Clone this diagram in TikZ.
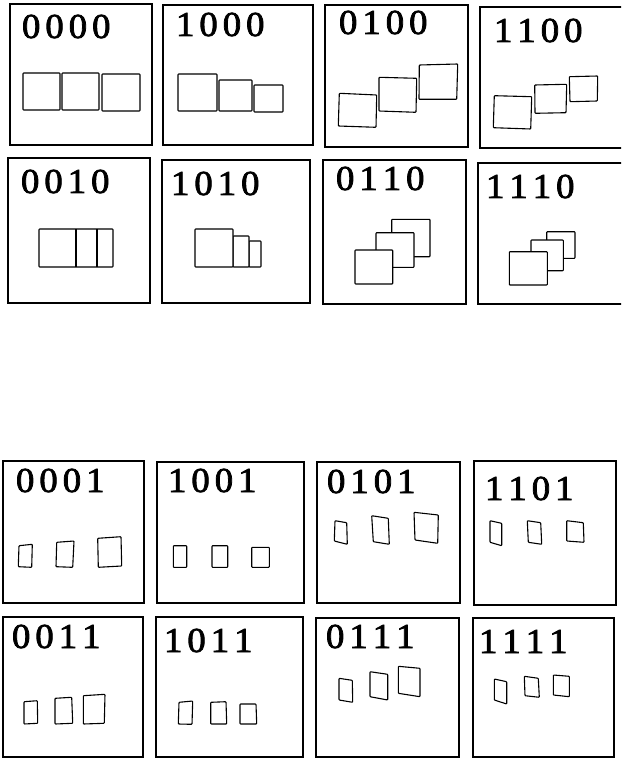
\documentclass[tikz,border=0pt]{standalone}
\usepackage{fontspec}
\newfontfamily\lblfont[FakeStretch=1.05,FakeBold=2.2]{Liberation Serif}
\newcommand\bits[4]{#1\kern5pt#2\kern5pt#3\kern5pt#4}
\tikzset{
  panel/.style={draw=black, line width=1.1pt},
  sq/.style={draw=black, line width=1.1pt, fill=white, rounded corners=0.7pt, line join=round},
  lab/.style={anchor=base west, inner sep=0pt, outer sep=0pt, font=\lblfont\fontsize{35}{39}\selectfont}
}
\begin{document}
\begin{tikzpicture}[x=1pt, y=-1pt]
\clip (0,0) rectangle (621,759);
\fill[white] (0,0) rectangle (621,759);
% ---------- row 1 ----------
\draw[panel] (10,4) rectangle (152,145);
\draw[panel] (163,5) rectangle (313,145);
\draw[panel] (325,5) rectangle (468,147);
\draw[panel] (480,7) rectangle (640,148);
\node[lab] (l0000) at (22,38) {\bits0000};
\node[lab] (l1000) at (176,36) {\bits1000};
\node[lab] (l0100) at (339,34) {\bits0100};
\node[lab] (l1100) at (494,42) {\bits1100};
% 0000
\draw[sq] (23,73) rectangle (60,110);
\draw[sq] (62,73) rectangle (99,110);
\draw[sq] (102,74) rectangle (140,111);
% 1000
\draw[sq] (178,74) rectangle (217,111);
\draw[sq] (219,80) rectangle (252,111);
\draw[sq] (254,85) rectangle (283,112);
% 0100
\draw[sq] (339.3,93.3) -- (376.7,95) -- (376,127.3) -- (338.3,126) -- cycle;
\draw[sq] (379,77.3) -- (416.7,78.3) -- (416,112.3) -- (379,111) -- cycle;
\draw[sq] (419.3,65) -- (457.7,64) -- (456.7,99.3) -- (419,99.3) -- cycle;
% 1100
\draw[sq] (494.3,95.7) -- (531.7,96.7) -- (530.7,129) -- (493.3,127.7) -- cycle;
\draw[sq] (534.7,85) -- (566.7,84.3) -- (566,112.7) -- (535,113.3) -- cycle;
\draw[sq] (569.3,76.7) -- (597.7,76) -- (597.3,101) -- (570,101.7) -- cycle;
% ---------- row 2 ----------
\draw[panel] (8,158) rectangle (150,303);
\draw[panel] (162,160) rectangle (310,303);
\draw[panel] (323,160) rectangle (466,304);
\draw[panel] (478,163) rectangle (640,304);
\node[lab] (l0010) at (21,193) {\bits0010};
\node[lab] (l1010) at (171,195) {\bits1010};
\node[lab] (l0110) at (336,190) {\bits0110};
\node[lab] (l1110) at (486,198) {\bits1110};
% 0010
\draw[sq] (39,229) rectangle (113,267);
\draw[line width=1.1pt] (76,229) -- (76,267) (97,229) -- (97,267);
% 1010
\draw[sq] (249,241) rectangle (261,267);
\draw[sq] (233,236) rectangle (249,267);
\draw[sq] (195,229) rectangle (233,267);
% 0110
\draw[sq] (391.7,219.3) rectangle (430,256.7);
\draw[sq] (376,232.7) rectangle (414,267.3);
\draw[sq] (355,250) rectangle (392.7,284);
% 1110
\draw[sq] (546.7,231.7) rectangle (575,258.3);
\draw[sq] (531,240) rectangle (563.3,270.7);
\draw[sq] (509.3,251.7) rectangle (547.3,285);
% ---------- row 3 ----------
\draw[panel] (3,461) rectangle (144,603);
\draw[panel] (157,462) rectangle (304,603);
\draw[panel] (317,462) rectangle (460,603);
\draw[panel] (474,461) rectangle (616,605);
\node[lab] (l0001) at (16,492) {\bits0001};
\node[lab] (l1001) at (168,492) {\bits1001};
\node[lab] (l0101) at (327,493) {\bits0101};
\node[lab] (l1101) at (485,500) {\bits1101};
% 0001
\draw[sq] (19,545.7) -- (32.3,544.3) -- (31.7,567.3) -- (18.3,566.7) -- cycle;
\draw[sq] (56.7,542.3) -- (74,541) -- (72.7,567.3) -- (56,566.7) -- cycle;
\draw[sq] (97.7,538.3) -- (121,536.7) -- (121.7,566) -- (98.3,567.3) -- cycle;
% 1001
\draw[sq] (173.3,545.7) rectangle (186.7,567.3);
\draw[sq] (212,545.7) rectangle (227.7,567.3);
\draw[sq] (251.7,547.3) rectangle (269.3,567.3);
% 0101
\draw[sq] (335,520.7) -- (346.7,522.7) -- (347.3,544.3) -- (334.3,541) -- cycle;
\draw[sq] (371.7,515.7) -- (388.3,518.3) -- (389.3,544.3) -- (373.3,541.7) -- cycle;
\draw[sq] (414,512.3) -- (438.3,515) -- (437.7,543.3) -- (415,540) -- cycle;
% 1101
\draw[sq] (490,520.7) -- (501.7,523.3) -- (501.7,545.7) -- (490,542.3) -- cycle;
\draw[sq] (527.3,520.7) -- (540.7,522.7) -- (541.7,544.3) -- (528.3,542.3) -- cycle;
\draw[sq] (566.7,520.7) -- (583.3,522.7) -- (584,542.3) -- (566.7,541) -- cycle;
% ---------- row 4 ----------
\draw[panel] (3,617) rectangle (143,757);
\draw[panel] (156,617) rectangle (303,757);
\draw[panel] (316,618) rectangle (459,757);
\draw[panel] (473,618) rectangle (614,757);
\node[lab] (l0011) at (12,648) {\bits0011};
\node[lab] (l1011) at (164,652) {\bits1011};
\node[lab] (l0111) at (326,648) {\bits0111};
\node[lab] (l1111) at (479,653) {\bits1111};
% 0011
\draw[sq] (24,701.7) -- (37.3,700.7) -- (37.7,723.3) -- (24,724) -- cycle;
\draw[sq] (55,698.3) -- (71.7,697.3) -- (72.7,723.3) -- (55,724) -- cycle;
\draw[sq] (83.3,695.7) -- (105,694.3) -- (104.3,723.3) -- (83.3,724) -- cycle;
% 1011
\draw[sq] (179,702.3) -- (192.7,701) -- (192,724.3) -- (178.3,724) -- cycle;
\draw[sq] (210.7,702.3) -- (226,701.7) -- (226.7,724) -- (210.7,724) -- cycle;
\draw[sq] (240,704) -- (256,704) -- (256.7,724) -- (240,724) -- cycle;
% 0111
\draw[sq] (339,678.3) -- (352.3,680.3) -- (352.7,702.3) -- (339,700) -- cycle;
\draw[sq] (370,671.7) -- (387.7,674.3) -- (387.7,700) -- (370,696.7) -- cycle;
\draw[sq] (398.3,666.3) -- (420,668.3) -- (420,696.7) -- (398.3,693.3) -- cycle;
% 1111
\draw[sq] (494.3,679) -- (506.7,681.7) -- (506.7,704) -- (494.3,700) -- cycle;
\draw[sq] (524.3,676.3) -- (538.3,678.3) -- (539.3,697.3) -- (525,695.7) -- cycle;
\draw[sq] (553.3,675) -- (569.3,676.3) -- (569.3,696.7) -- (553.3,695) -- cycle;
\end{tikzpicture}
\end{document}
